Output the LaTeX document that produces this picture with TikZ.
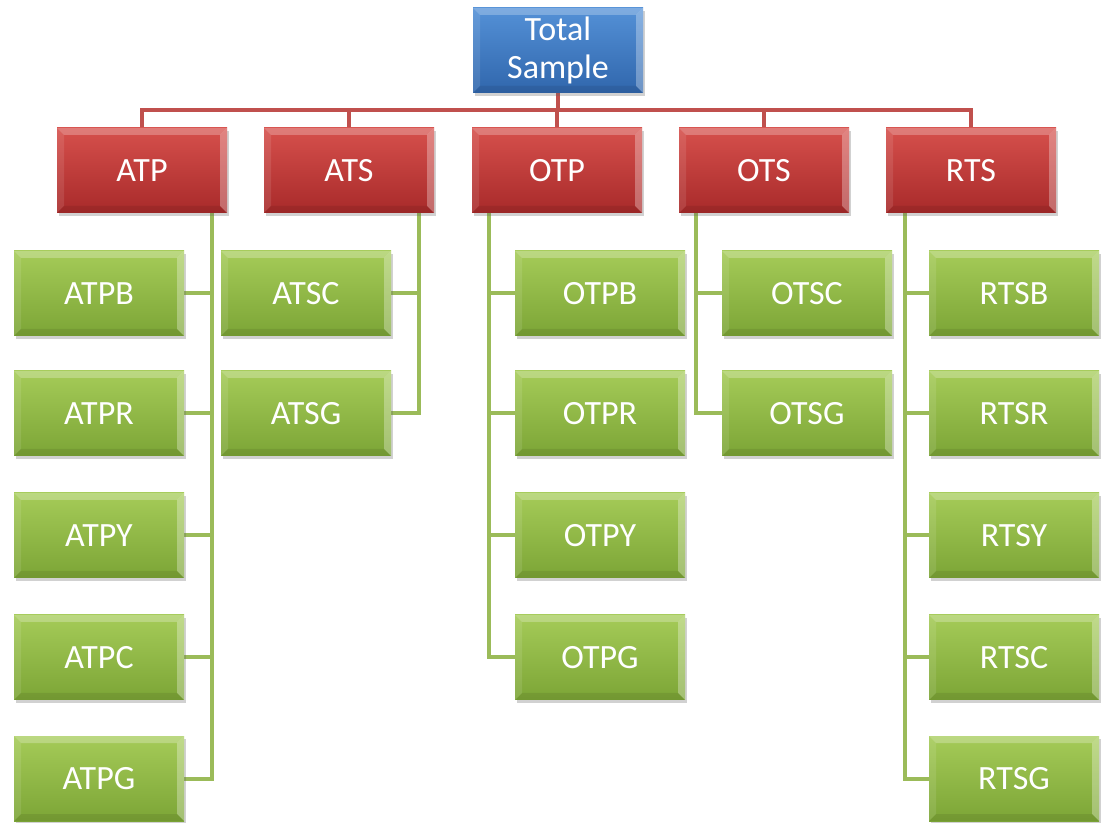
\documentclass[tikz,border=0pt]{standalone}
\usepackage{fontspec}
\setmainfont{Carlito}
\usetikzlibrary{shadows,backgrounds,calc}
\definecolor{bluetop}{RGB}{84,145,215}
\definecolor{bluebot}{RGB}{48,102,172}
\definecolor{redtop}{RGB}{214,80,76}
\definecolor{redbot}{RGB}{168,42,42}
\definecolor{greentop}{RGB}{165,203,88}
\definecolor{greenbot}{RGB}{124,165,54}
\definecolor{redline}{RGB}{192,80,77}
\definecolor{greenline}{RGB}{155,187,89}
\tikzset{
  bevel/.style={path picture={
    \coordinate (nw) at (path picture bounding box.north west);
    \coordinate (ne) at (path picture bounding box.north east);
    \coordinate (sw) at (path picture bounding box.south west);
    \coordinate (se) at (path picture bounding box.south east);
    \fill[white,opacity=0.25] (nw) -- (ne) -- ($(ne)+(-7,7)$) -- ($(nw)+(7,7)$) -- cycle;
    \fill[white,opacity=0.10] (nw) -- ($(nw)+(7,7)$) -- ($(sw)+(7,-7)$) -- (sw) -- cycle;
    \fill[white,opacity=0.30] (ne) -- ($(ne)+(-7,7)$) -- ($(se)+(-7,-7)$) -- (se) -- cycle;
    \fill[black,opacity=0.08] (sw) -- ($(sw)+(7,-7)$) -- ($(se)+(-7,-7)$) -- (se) -- cycle;
  }},
  box/.style={rectangle, minimum width=127.5pt, minimum height=63.75pt, inner sep=0pt,
    text=white, font=\fontsize{25.5}{28}\selectfont, align=center, bevel,
    drop shadow={shadow xshift=1.5pt, shadow yshift=-2.5pt, opacity=0.3, fill=black!60}},
  bluebox/.style={box, top color=bluetop, bottom color=bluebot},
  redbox/.style={box, top color=redtop, bottom color=redbot},
  greenbox/.style={box, top color=greentop, bottom color=greenbot},
  rline/.style={draw=redline, line width=3.5pt},
  gline/.style={draw=greenline, line width=3pt},
}
\begin{document}
\begin{tikzpicture}[x=0.75pt,y=-0.75pt]
\useasboundingbox (0,0) rectangle (1108,823);
\node[bluebox] (top) at (558,50.5) {Total\\Sample};
\node[redbox] (ATP) at (142,170.5) {ATP};
\node[redbox] (ATS) at (349,170.5) {ATS};
\node[redbox] (OTP) at (557,170.5) {OTP};
\node[redbox] (OTS) at (764,170.5) {OTS};
\node[redbox] (RTS) at (971,170.5) {RTS};
\node[greenbox] (ATPB) at (99,293.5) {ATPB};
\node[greenbox] (ATPR) at (99,413.5) {ATPR};
\node[greenbox] (ATPY) at (99,535.5) {ATPY};
\node[greenbox] (ATPC) at (99,657.5) {ATPC};
\node[greenbox] (ATPG) at (99,778.5) {ATPG};
\node[greenbox] (ATSC) at (306,293.5) {ATSC};
\node[greenbox] (ATSG) at (306,413.5) {ATSG};
\node[greenbox] (OTPB) at (600,293.5) {OTPB};
\node[greenbox] (OTPR) at (600,413.5) {OTPR};
\node[greenbox] (OTPY) at (600,535.5) {OTPY};
\node[greenbox] (OTPG) at (600,657.5) {OTPG};
\node[greenbox] (OTSC) at (807,293.5) {OTSC};
\node[greenbox] (OTSG) at (807,413.5) {OTSG};
\node[greenbox] (RTSB) at (1014,293.5) {RTSB};
\node[greenbox] (RTSR) at (1014,413.5) {RTSR};
\node[greenbox] (RTSY) at (1014,535.5) {RTSY};
\node[greenbox] (RTSC) at (1014,657.5) {RTSC};
\node[greenbox] (RTSG) at (1014,778.5) {RTSG};
\coordinate (bus) at (558,110);
\begin{scope}[on background layer]
\draw[rline] (top.south) -- (bus);
\foreach \n in {ATP,ATS,OTP,OTS,RTS} \draw[rline] (bus) -| (\n.north);
\foreach \c in {ATPB,ATPR,ATPY,ATPC,ATPG} \draw[gline] ($(ATP.south east)+(-15,0)$) |- (\c.east);
\foreach \c in {ATSC,ATSG} \draw[gline] ($(ATS.south east)+(-15,0)$) |- (\c.east);
\foreach \c in {OTPB,OTPR,OTPY,OTPG} \draw[gline] ($(OTP.south west)+(17,0)$) |- (\c.west);
\foreach \c in {OTSC,OTSG} \draw[gline] ($(OTS.south west)+(17,0)$) |- (\c.west);
\foreach \c in {RTSB,RTSR,RTSY,RTSC,RTSG} \draw[gline] ($(RTS.south west)+(19,0)$) |- (\c.west);
\end{scope}
\end{tikzpicture}
\end{document}
